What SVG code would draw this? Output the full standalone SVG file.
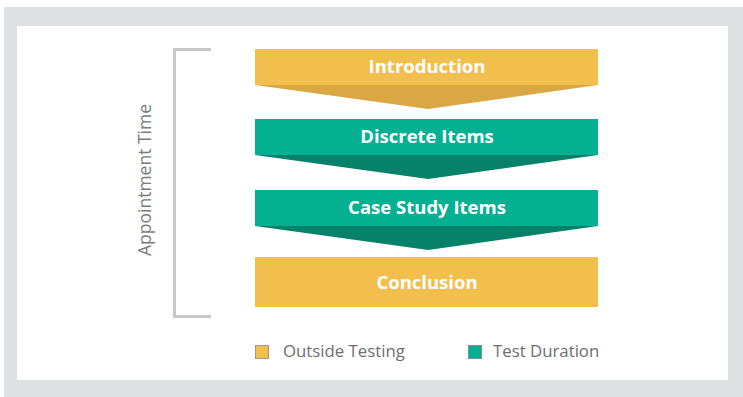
<svg xmlns="http://www.w3.org/2000/svg" width="743" height="397" viewBox="0 0 743 397">
<style>
.lbl{font-family:"Open Sans","Liberation Sans",sans-serif;font-weight:bold;font-size:18.5px;fill:#fff;text-anchor:middle}
.leg{font-family:"Open Sans","Liberation Sans",sans-serif;font-size:16.8px;fill:#6d6e70}
.y{fill:#f2bf4e}.yd{fill:#d9a843}.t{fill:#04b092}.td{fill:#058269}
</style>
<rect x="0" y="0" width="743" height="397" fill="#fff"/>
<rect x="4" y="7" width="739" height="390" fill="#dfe0e1"/>
<rect x="17" y="26" width="711" height="354" fill="#fff"/>
<g id="bracket">
<path d="M211,49.5 H174.5 V316.5 H211" fill="none" stroke="#c8c8c8" stroke-width="3"/>
<text transform="translate(151,180) rotate(-90)" text-anchor="middle" style="font-family:'Open Sans','Liberation Sans',sans-serif;font-size:17.5px;fill:#7a7b7d">Appointment Time</text>
</g>
<g id="intro">
<polygon class="yd" points="255,85 598,85 428,109"/>
<rect class="y" x="255" y="49" width="343" height="36"/>
<text class="lbl" x="427" y="72.5">Introduction</text>
</g>
<g id="discrete">
<polygon class="td" points="255,155 598,155 428,179"/>
<rect class="t" x="255" y="119" width="343" height="36"/>
<text class="lbl" x="427" y="142.5">Discrete Items</text>
</g>
<g id="case">
<polygon class="td" points="255,226 598,226 428,250"/>
<rect class="t" x="255" y="190" width="343" height="36"/>
<text class="lbl" x="427" y="213.5">Case Study Items</text>
</g>
<g id="conclusion">
<rect class="y" x="255" y="257" width="343" height="50"/>
<text class="lbl" x="427" y="288.5">Conclusion</text>
</g>
<g id="connectors"></g>
<g id="legend">
<rect class="y" x="255.5" y="345.5" width="13" height="13" stroke="#9a9a9a" stroke-width="1"/>
<text class="leg" x="283" y="357">Outside Testing</text>
<rect class="t" x="468.5" y="345.5" width="13" height="13" stroke="#8a8a8a" stroke-width="1"/>
<text class="leg" x="493" y="357">Test Duration</text>
</g>
</svg>
